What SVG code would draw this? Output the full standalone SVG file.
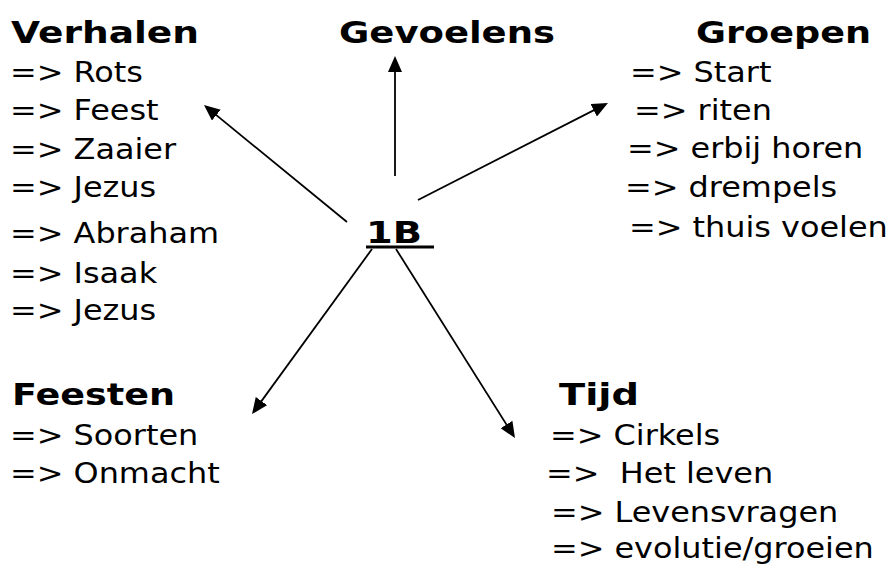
<svg xmlns="http://www.w3.org/2000/svg" width="890" height="568" viewBox="0 0 890 568">
<style>
text{font-family:"DejaVu Sans","Verdana",sans-serif;fill:#000;}
.h{font-size:30px;font-weight:bold;}
.i{font-size:29px;white-space:pre;}
.con line{stroke:#000;stroke-width:1.8;fill:none;marker-end:url(#ah);}
</style>
<defs>
<marker id="ah" markerUnits="userSpaceOnUse" markerWidth="16" markerHeight="14" refX="13" refY="7" orient="auto">
<path d="M0,0 L16,7 L0,14 z" fill="#000"/>
</marker>
</defs>
<rect width="890" height="568" fill="#fff"/>
<g id="center">
<text class="h" x="366" y="243" textLength="56" lengthAdjust="spacingAndGlyphs">1B</text>
<line x1="366" y1="247" x2="434" y2="247" stroke="#000" stroke-width="3"/>
</g>
<g id="verhalen">
<text class="h" x="11" y="43" textLength="188" lengthAdjust="spacingAndGlyphs">Verhalen</text>
<g transform="translate(10,0) scale(1.1,1)">
<text class="i" x="0" y="82">=&gt; Rots</text>
<text class="i" x="0" y="120">=&gt; Feest</text>
<text class="i" x="0" y="159">=&gt; Zaaier</text>
<text class="i" x="0" y="197">=&gt; Jezus</text>
<text class="i" x="0" y="243">=&gt; Abraham</text>
<text class="i" x="0" y="283">=&gt; Isaak</text>
<text class="i" x="0" y="320">=&gt; Jezus</text>
</g>
</g>
<g id="gevoelens">
<text class="h" x="339" y="43" textLength="216" lengthAdjust="spacingAndGlyphs">Gevoelens</text>
</g>
<g id="groepen">
<text class="h" x="696" y="43" textLength="175" lengthAdjust="spacingAndGlyphs">Groepen</text>
<g transform="translate(625,0) scale(1.1,1)">
<text class="i" x="4.5" y="82">=&gt; Start</text>
<text class="i" x="8.2" y="120">=&gt; riten</text>
<text class="i" x="1.8" y="158">=&gt; erbij horen</text>
<text class="i" x="0" y="197">=&gt; drempels</text>
<text class="i" x="3.6" y="237">=&gt; thuis voelen</text>
</g>
</g>
<g id="feesten">
<text class="h" x="12" y="405" textLength="163" lengthAdjust="spacingAndGlyphs">Feesten</text>
<g transform="translate(10,0) scale(1.1,1)">
<text class="i" x="0" y="445">=&gt; Soorten</text>
<text class="i" x="0" y="483">=&gt; Onmacht</text>
</g>
</g>
<g id="tijd">
<text class="h" x="559" y="405" textLength="80" lengthAdjust="spacingAndGlyphs">Tijd</text>
<g transform="translate(546,0) scale(1.1,1)">
<text class="i" x="3.6" y="445">=&gt; Cirkels</text>
<text class="i" x="0" y="483">=&gt;  Het leven</text>
<text class="i" x="4.5" y="522">=&gt; Levensvragen</text>
<text class="i" x="4.5" y="558">=&gt; evolutie/groeien</text>
</g>
</g>
<g id="connectors" class="con">
<line x1="347" y1="222" x2="206.3" y2="106.9"/>
<line x1="395" y1="176" x2="395" y2="59"/>
<line x1="418" y1="200" x2="605.3" y2="104.4"/>
<line x1="372" y1="249" x2="253.8" y2="411.6"/>
<line x1="396" y1="249" x2="513.4" y2="435.5"/>
</g>
</svg>
